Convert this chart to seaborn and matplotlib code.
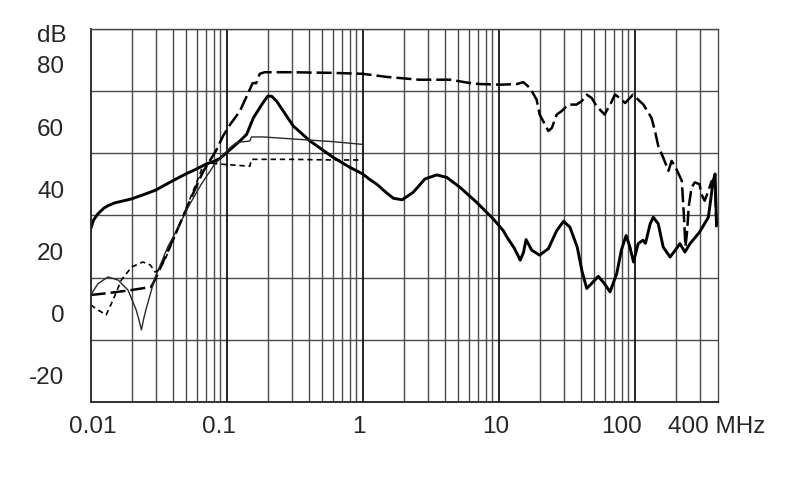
import numpy as np
import pandas as pd
import matplotlib
matplotlib.use("Agg")
import matplotlib.pyplot as plt
import matplotlib.transforms as mtransforms
import seaborn as sns

# curve A - thick solid
freq_a = [0.01, 0.0105, 0.0113, 0.0125, 0.0134, 0.015, 0.0168, 0.02, 0.025, 0.03,
          0.04, 0.05, 0.06, 0.07, 0.08, 0.09, 0.1, 0.115, 0.125, 0.14, 0.157, 0.181,
          0.2, 0.214, 0.233, 0.27, 0.309, 0.41, 0.608, 0.8, 1.0, 1.13, 1.27, 1.5, 1.68,
          1.95, 2.35, 2.87, 3.5, 4.15, 5.19, 6.88, 9.1, 10.8, 11.5, 13.0, 14.4, 15.2,
          15.9, 17.5, 20, 23.2, 26.7, 30, 33.4, 37.8, 41, 44.4, 48, 54, 60, 65.9, 73.8,
          80, 86.5, 92, 98, 106, 115, 120, 130, 137, 149, 162, 182, 198, 215, 234, 255,
          300, 348, 378, 390, 400]
db_a = [25.7, 28.5, 30.5, 32.3, 33.1, 34.0, 34.5, 35.3, 36.8, 38.1,
        41.1, 43.3, 44.9, 46.4, 47.3, 48.4, 50.2, 52.5, 53.9, 56.0, 61.3, 65.6,
        68.3, 68.3, 66.7, 62.5, 58.7, 53.9, 48.6, 45.5, 43.3, 41.5, 40.0, 37.2, 35.5,
        35.0, 37.4, 41.7, 43.0, 42.2, 39.0, 34.2, 28.9, 25.1, 23.0, 19.5, 15.6, 18.0,
        22.2, 18.8, 17.2, 19.3, 25.1, 28.1, 26.2, 19.8, 12.0, 6.5, 8.0, 10.4, 8.0, 5.4, 11.3,
        19.0, 23.5, 20.0, 15.0, 20.9, 22.0, 21.0, 27.3, 29.4, 27.3, 19.8, 16.6, 18.7, 20.9, 18.2, 20.9,
        24.6, 29.4, 41.1, 43.3, 27.0]

# curve B - thick dashed
freq_b = [0.01, 0.0134, 0.02, 0.0279, 0.03, 0.04, 0.05, 0.06, 0.067, 0.075, 0.084,
          0.094, 0.106, 0.125, 0.148, 0.155, 0.165, 0.175, 0.19, 0.3, 0.6, 1.0, 1.5,
          2.6, 4.4, 6.2, 7.3, 10.2, 13.6, 15.2, 17, 19, 20, 21.9, 23.2, 24.6, 26.7, 29,
          32.5, 37.3, 40.8, 44.4, 48.3, 52.5, 60, 66, 71.6, 78, 85, 92, 97, 103, 116,
          133, 141, 149, 162, 177, 187, 200, 222, 230, 236, 242, 250, 262, 277, 300,
          309, 327, 348, 368, 390, 400]
db_b = [4.4, 5.0, 6.0, 7.0, 9.7, 22.0, 31.5, 39.5, 44.0, 47.5, 51.0,
        55.5, 59.2, 63.5, 70.5, 72.5, 72.5, 75.5, 76.0, 76.0, 75.8, 75.5, 74.5,
        73.6, 73.6, 72.5, 72.2, 72.0, 72.2, 72.8, 70.9, 67.2, 62.4, 59.2, 57.1, 58.1, 62.4, 63.5,
        65.6, 65.6, 66.7, 68.8, 67.7, 65.1, 62.4, 65.6, 68.8, 67.7, 66.1, 67.7, 68.8, 67.7, 65.6,
        61.3, 57.1, 52.3, 48.6, 44.3, 47.5, 45.4, 41.1, 30.0, 20.0, 24.0, 33.0, 39.0, 40.6, 40.0,
        36.8, 34.7, 37.9, 41.0, 39.0, 25.0]

# curve C - thin solid
freq_c = [0.01, 0.0113, 0.0134, 0.0159, 0.0188, 0.0216, 0.0226, 0.0236, 0.0246, 0.0256,
          0.0296, 0.037, 0.0439, 0.052, 0.065, 0.0815, 0.095, 0.106, 0.118, 0.148,
          0.152, 0.157, 0.186, 0.346, 0.6, 1.0]
db_c = [4.4, 8.0, 10.2, 9.2, 6.0, -0.4, -3.5, -6.8, -3.0, 0.0,
        9.8, 20.0, 26.0, 32.6, 40.0, 46.4, 49.5, 51.8, 53.4, 53.9,
        55.2, 55.2, 55.2, 54.4, 53.7, 52.8]

# curve D - thin dotted
freq_d = [0.01, 0.0113, 0.013, 0.0146, 0.0168, 0.02, 0.0242, 0.0275, 0.0297, 0.032,
          0.035, 0.0414, 0.05, 0.06, 0.067, 0.075, 0.1, 0.148, 0.152, 0.3, 0.6, 1.0]
db_d = [1.2, -0.4, -2.0, 2.8, 9.2, 13.4, 15.0, 14.0, 11.8, 12.5,
        15.5, 23.0, 32.0, 40.5, 46.0, 46.8, 46.3, 45.8, 48.0, 48.0, 47.8, 47.8]

x_ticks = [0.01, 0.1, 1, 10, 100, 400]
x_labels = ["0.01", "0.1", "1", "10", "100", "400 MHz"]
y_ticks = [-20, 0, 20, 40, 60, 80]

sns.set_style("white")
plt.rcParams["font.family"] = ["Liberation Sans", "DejaVu Sans"]

fig = plt.figure(figsize=(7.9, 4.99), dpi=100)
ax = fig.add_axes([0.1148, 0.1944, 0.7941, 0.7481])
ax.set_xscale("log")

curves = [
    (freq_a, db_a, dict(color="black", lw=2.1, linestyle="-")),
    (freq_b, db_b, dict(color="black", lw=1.8, linestyle=(0, (6.0, 2.0)))),
    (freq_c, db_c, dict(color="#2a2a2a", lw=1.0, linestyle="-")),
    (freq_d, db_d, dict(color="black", lw=1.2, linestyle=(0, (3.2, 2.3)))),
]
for fx, fy, style in curves:
    df = pd.DataFrame({"freq": fx, "db": fy})
    sns.lineplot(data=df, x="freq", y="db", ax=ax, estimator=None, sort=False, **style)

ax.set_xlim(0.01, 410)
ax.set_ylim(-30, 90)

# grid: every 10 dB, and 1..9 per decade
minor_x = [m * 10.0 ** e for e in range(-2, 3) for m in range(2, 10)]
minor_x = [v for v in minor_x if v < 410]
ax.set_xticks(minor_x, minor=True)
ax.set_yticks(np.arange(-30, 91, 10), minor=True)
ax.grid(which="minor", axis="both", color="#4a4a4a", lw=1.0)
for dec in [0.1, 1, 10, 100]:
    ax.axvline(dec, color="#111111", lw=1.3, zorder=1)
ax.set_axisbelow(True)

ax.set_xticks(x_ticks)
ax.set_xticklabels(x_labels)
ax.set_yticks(y_ticks)
ax.set_yticklabels([str(v) for v in y_ticks])
ax.tick_params(which="both", length=0)
ax.tick_params(axis="x", labelsize=17.5, pad=10)
ax.tick_params(axis="y", labelsize=17.5, pad=19)
ax.set_xlabel("")
ax.set_ylabel("")

# nudge labels like the original sheet
for lab in ax.get_yticklabels():
    lab.set_transform(lab.get_transform() + mtransforms.ScaledTranslation(0, -0.05, fig.dpi_scale_trans))
x_shift = [0.02, -0.08, -0.04, -0.03, -0.13, 0.0]
for lab, dx in zip(ax.get_xticklabels(), x_shift):
    lab.set_transform(lab.get_transform() + mtransforms.ScaledTranslation(dx, 0, fig.dpi_scale_trans))

for side in ["left", "bottom"]:
    ax.spines[side].set_color("#222222")
    ax.spines[side].set_linewidth(1.3)
for side in ["top", "right"]:
    ax.spines[side].set_color("#4a4a4a")
    ax.spines[side].set_linewidth(1.0)

fig.text(51.5 / 790, 1 - 36.5 / 499, "dB", ha="center", va="center", fontsize=17.5)

fig.savefig("out.png", dpi=100)
